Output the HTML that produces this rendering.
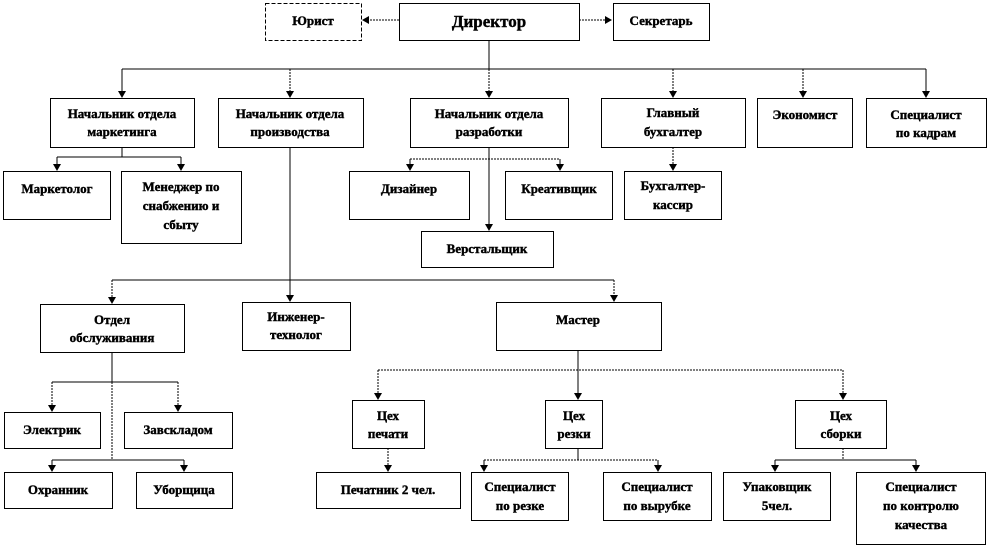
<!DOCTYPE html>
<html><head><meta charset="utf-8"><style>
body{margin:0;background:#fff;width:990px;height:546px;overflow:hidden}
svg{display:block}
text{font-family:"Liberation Serif",serif;font-weight:bold;font-size:13px;fill:#000;stroke:#000;stroke-width:0.4;text-anchor:middle}
rect{fill:#fff;stroke:#000;stroke-width:1}
line,polyline{stroke:#000;stroke-width:1;fill:none}
</style></head><body>
<svg width="990" height="546" viewBox="0 0 990 546">
<defs><marker id="a" markerWidth="8" markerHeight="8" refX="6" refY="4" orient="auto" markerUnits="userSpaceOnUse"><path d="M0,0 L7,4 L0,8 z" fill="#000"/></marker></defs>
<g>
<line x1="399" y1="20" x2="363" y2="20" stroke-dasharray="2,1" marker-end="url(#a)"/>
<line x1="579" y1="20" x2="611" y2="20" stroke-dasharray="2,1" marker-end="url(#a)"/>
<line x1="489" y1="40" x2="489" y2="69"/>
<line x1="122" y1="69" x2="926" y2="69"/>
<line x1="122" y1="69" x2="122" y2="97" marker-end="url(#a)"/>
<line x1="290" y1="69" x2="290" y2="97" stroke-dasharray="2,1" marker-end="url(#a)"/>
<line x1="489" y1="69" x2="489" y2="97" stroke-dasharray="2,1" marker-end="url(#a)"/>
<line x1="673" y1="69" x2="673" y2="97" stroke-dasharray="2,1" marker-end="url(#a)"/>
<line x1="803" y1="69" x2="803" y2="97" stroke-dasharray="2,1" marker-end="url(#a)"/>
<line x1="926" y1="69" x2="926" y2="97" marker-end="url(#a)"/>
<line x1="122" y1="147" x2="122" y2="157"/>
<line x1="57" y1="157" x2="181" y2="157"/>
<line x1="57" y1="157" x2="57" y2="170" marker-end="url(#a)"/>
<line x1="181" y1="157" x2="181" y2="170" marker-end="url(#a)"/>
<line x1="489" y1="147" x2="489" y2="159" stroke-width="2"/>
<line x1="410" y1="159" x2="560" y2="159" stroke-dasharray="2,1"/>
<line x1="410" y1="159" x2="410" y2="170" marker-end="url(#a)"/>
<line x1="560" y1="159" x2="560" y2="170" marker-end="url(#a)"/>
<line x1="489" y1="159" x2="489" y2="230" marker-end="url(#a)"/>
<line x1="673" y1="147" x2="673" y2="170" stroke-dasharray="2,1" marker-end="url(#a)"/>
<line x1="290" y1="147" x2="290" y2="301" marker-end="url(#a)"/>
<line x1="112" y1="280" x2="614" y2="280"/>
<line x1="112" y1="280" x2="112" y2="303" stroke-dasharray="2,1" marker-end="url(#a)"/>
<line x1="614" y1="280" x2="614" y2="301" stroke-dasharray="2,1" marker-end="url(#a)"/>
<line x1="578" y1="350" x2="578" y2="399" marker-end="url(#a)"/>
<line x1="378" y1="370" x2="843" y2="370" stroke-dasharray="2,1"/>
<line x1="378" y1="370" x2="378" y2="399" stroke-dasharray="2,1" marker-end="url(#a)"/>
<line x1="843" y1="370" x2="843" y2="399" stroke-dasharray="2,1" marker-end="url(#a)"/>
<line x1="112" y1="352" x2="112" y2="382" stroke-width="2"/>
<line x1="52" y1="382" x2="178" y2="382"/>
<line x1="52" y1="382" x2="52" y2="411" stroke-dasharray="2,1" marker-end="url(#a)"/>
<line x1="178" y1="382" x2="178" y2="411" stroke-dasharray="2,1" marker-end="url(#a)"/>
<line x1="112" y1="382" x2="112" y2="460" stroke-dasharray="2,1"/>
<line x1="52" y1="460" x2="184" y2="460"/>
<line x1="52" y1="460" x2="52" y2="471" marker-end="url(#a)"/>
<line x1="184" y1="460" x2="184" y2="471" marker-end="url(#a)"/>
<line x1="388" y1="448" x2="388" y2="471" stroke-dasharray="2,1" marker-end="url(#a)"/>
<line x1="578" y1="448" x2="578" y2="460"/>
<line x1="484" y1="460" x2="658" y2="460" stroke-dasharray="2,1"/>
<line x1="484" y1="460" x2="484" y2="471" marker-end="url(#a)"/>
<line x1="658" y1="460" x2="658" y2="471" marker-end="url(#a)"/>
<line x1="843" y1="448" x2="843" y2="460" stroke-dasharray="2,1"/>
<line x1="775" y1="460" x2="916" y2="460"/>
<line x1="775" y1="460" x2="775" y2="471" marker-end="url(#a)"/>
<line x1="916" y1="460" x2="916" y2="471" marker-end="url(#a)"/>
</g>
<g>
<rect x="265.5" y="3.5" width="96" height="37" stroke-dasharray="4,2"/>
<text x="313" y="25">Юрист</text>
<rect x="399.5" y="3.5" width="180" height="37"/>
<text x="489" y="27" style="font-size:17px">Директор</text>
<rect x="613.5" y="3.5" width="96" height="37"/>
<text x="661" y="25">Секретарь</text>

<rect x="50.5" y="98.5" width="144" height="49"/>
<text x="122" y="118">Начальник отдела</text><text x="122" y="136">маркетинга</text>
<rect x="218.5" y="98.5" width="145" height="49"/>
<text x="290" y="118">Начальник отдела</text><text x="290" y="136">производства</text>
<rect x="410.5" y="98.5" width="158" height="49"/>
<text x="489" y="118">Начальник отдела</text><text x="489" y="136">разработки</text>
<rect x="601.5" y="98.5" width="144" height="49"/>
<text x="673" y="117">Главный</text><text x="673" y="136">бухгалтер</text>
<rect x="757.5" y="98.5" width="95" height="49"/>
<text x="805" y="119">Экономист</text>
<rect x="866.5" y="98.5" width="120" height="49"/>
<text x="926" y="119">Специалист</text><text x="926" y="137">по кадрам</text>

<rect x="3.5" y="171.5" width="107" height="48"/>
<text x="57" y="193">Маркетолог</text>
<rect x="121.5" y="171.5" width="120" height="72"/>
<text x="181" y="191">Менеджер по</text><text x="181" y="210">снабжению и</text><text x="181" y="229">сбыту</text>
<rect x="349.5" y="171.5" width="120" height="48"/>
<text x="409" y="193">Дизайнер</text>
<rect x="505.5" y="171.5" width="107" height="48"/>
<text x="559" y="193">Креативщик</text>
<rect x="624.5" y="171.5" width="97" height="48"/>
<text x="673" y="190">Бухгалтер-</text><text x="673" y="209">кассир</text>
<rect x="421.5" y="231.5" width="132" height="36"/>
<text x="487" y="253">Верстальщик</text>

<rect x="40.5" y="304.5" width="144" height="48"/>
<text x="112" y="324">Отдел</text><text x="112" y="342">обслуживания</text>
<rect x="242.5" y="302.5" width="108" height="48"/>
<text x="296" y="321">Инженер-</text><text x="296" y="339">технолог</text>
<rect x="496.5" y="302.5" width="165" height="48"/>
<text x="578" y="324">Мастер</text>

<rect x="4.5" y="412.5" width="96" height="36"/>
<text x="52" y="434">Электрик</text>
<rect x="124.5" y="412.5" width="108" height="36"/>
<text x="178" y="434">Завскладом</text>
<rect x="4.5" y="472.5" width="108" height="36"/>
<text x="58" y="494">Охранник</text>
<rect x="136.5" y="472.5" width="96" height="36"/>
<text x="184" y="494">Уборщица</text>

<rect x="352.5" y="400.5" width="72" height="48"/>
<text x="388" y="420">Цех</text><text x="388" y="438">печати</text>
<rect x="545.5" y="400.5" width="57" height="48"/>
<text x="574" y="420">Цех</text><text x="574" y="438">резки</text>
<rect x="795.5" y="400.5" width="91" height="48"/>
<text x="841" y="420">Цех</text><text x="841" y="438">сборки</text>

<rect x="316.5" y="472.5" width="144" height="36"/>
<text x="388" y="494">Печатник 2 чел.</text>
<rect x="471.5" y="472.5" width="97" height="48"/>
<text x="520" y="491">Специалист</text><text x="520" y="510">по резке</text>
<rect x="603.5" y="472.5" width="108" height="48"/>
<text x="657" y="491">Специалист</text><text x="657" y="510">по вырубке</text>
<rect x="723.5" y="472.5" width="107" height="48"/>
<text x="777" y="491">Упаковщик</text><text x="777" y="510">5чел.</text>
<rect x="856.5" y="472.5" width="129" height="72"/>
<text x="921" y="491">Специалист</text><text x="921" y="510">по контролю</text><text x="921" y="529">качества</text>
</g>
</svg>
</body></html>
